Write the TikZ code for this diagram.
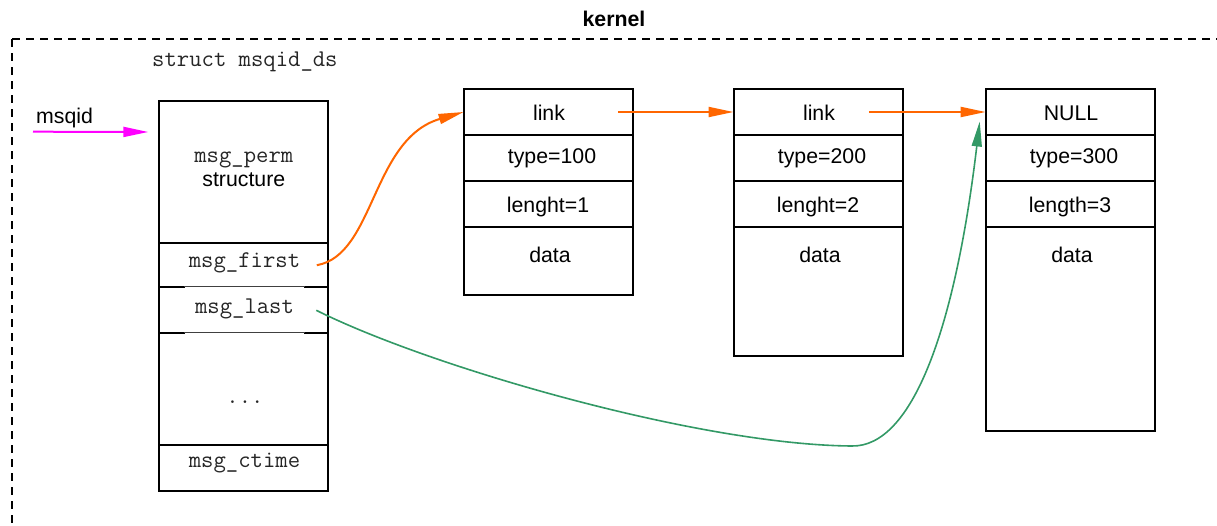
\documentclass[tikz,border=0pt]{standalone}
\usepackage{fontspec}
\setmainfont{Liberation Sans}
\usetikzlibrary{arrows.meta,calc}

\definecolor{linkorange}{RGB}{255,102,0}
\definecolor{lastgreen}{RGB}{51,153,102}
\definecolor{idmagenta}{RGB}{255,0,255}

\newcommand\txtfnt{\fontsize{21.3}{25}\selectfont}
\newcommand\monofnt{\fontsize{24}{28}\selectfont\ttfamily}

\begin{document}
\begin{tikzpicture}[x=1pt,y=-1pt,
  cell/.style={draw, line width=2pt, minimum width=169pt, inner sep=0pt, outer sep=0pt},
  lab/.style={font=\txtfnt, anchor=base, inner sep=0pt},
  code/.style={font=\monofnt, anchor=base, inner sep=0pt, text=black!85},
  ptr/.style={line width=2pt, -{Triangle[length=25pt,width=10pt]}},
]
\useasboundingbox (0,0) rectangle (1217,526);
\clip (0,0) rectangle (1217,526);

% kernel address space
\draw[line width=2pt, dash pattern=on 8pt off 6pt] (11.5,39.3) rectangle (1260,580);
\node[lab, font=\txtfnt\bfseries] (kernel) at (614,27) {kernel};

% struct msqid_ds
\node[code, anchor=base west] (sname) at (152,67) {struct msqid\_ds};
\node[cell, minimum height=142pt]  (s-perm)  at (243.8,172) {};
\node[cell, minimum height=44.3pt] (s-first) at (243.8,265.2) {};
\node[cell, minimum height=46pt]   (s-last)  at (243.8,310.3) {};
\node[cell, minimum height=111.7pt](s-dots)  at (243.8,389.2) {};
\node[cell, minimum height=46pt]   (s-ctime) at (243.8,468) {};
% thinner middle part of the pointer cells' lower edges
\foreach \c in {s-first,s-last}{
  \draw[white, line width=2.2pt] ([xshift=26pt]\c.south west) -- ([xshift=-24pt]\c.south east);
  \draw[black!75, line width=1.1pt] ([xshift=25pt,yshift=0.4pt]\c.south west) -- ([xshift=-23pt,yshift=0.4pt]\c.south east);
}
\node[code] (t-perm)  at (243.8,162.5) {msg\_perm};
\node[lab]  (t-struc) at (243.8,187)   {structure};
\node[code] (t-first) at (244.5,267.5) {msg\_first};
\node[code] (t-last)  at (244.5,314)   {msg\_last};
\node[code] (t-dots)  at (245,403)     {...};
\node[code] (t-ctime) at (244.5,467.5) {msg\_ctime};

% message 1
\node[cell, minimum height=46pt] (a-link) at (548,112) {};
\node[cell, minimum height=46pt] (a-type) at (548,158) {};
\node[cell, minimum height=46pt] (a-len)  at (548,204) {};
\node[cell, minimum height=68pt] (a-data) at (548,261) {};
\node[lab] at (549,120.7) {link};
\node[lab] at (552,164)   {type=100};
\node[lab] at (548,212.3) {lenght=1};
\node[lab] at (550,262.7) {data};

% message 2
\node[cell, minimum height=46pt]    (b-link) at (818,112) {};
\node[cell, minimum height=46pt]    (b-type) at (818,158) {};
\node[cell, minimum height=46pt]    (b-len)  at (818,204) {};
\node[cell, minimum height=128.7pt] (b-data) at (818,291.3) {};
\node[lab] at (819,120.7) {link};
\node[lab] at (822,164)   {type=200};
\node[lab] at (818,212.3) {lenght=2};
\node[lab] at (820,262.7) {data};

% message 3
\node[cell, minimum height=46pt]  (c-link) at (1070.2,112) {};
\node[cell, minimum height=46pt]  (c-type) at (1070.2,158) {};
\node[cell, minimum height=46pt]  (c-len)  at (1070.2,204) {};
\node[cell, minimum height=204pt] (c-data) at (1070.2,329) {};
\node[lab] at (1071,120.7) {NULL};
\node[lab] at (1074,164)   {type=300};
\node[lab] at (1070,212.3) {length=3};
\node[lab] at (1072,262.7) {data};

% msqid pointer
\node[lab, anchor=base west] (msqid) at (36,124) {msqid};
\coordinate (msqid-src) at (33,131.7);
\draw[ptr, idmagenta] (msqid-src) -- ($(s-perm.north west)+(-11,31)$);

% msg_first and link chain
\draw[ptr, linkorange] ([xshift=-11.5pt]s-first.east)
  .. controls +(58,-10) and +(-92,27) .. (a-link.west);
\draw[ptr, linkorange] ([xshift=-14.7pt]a-link.east) -- (b-link.west);
\draw[ptr, linkorange] ([xshift=-33.7pt]b-link.east) -- (c-link.west);

% msg_last pointer
\coordinate (low) at (852,446);
\draw[ptr, lastgreen, line width=1.6pt] ([xshift=-12pt]s-last.east)
  .. controls +(114,57) and (700,445) .. (low)
  .. controls (912,447) and (955,330) .. ($(c-link.west)+(-6,9.5)$);
\end{tikzpicture}
\end{document}
